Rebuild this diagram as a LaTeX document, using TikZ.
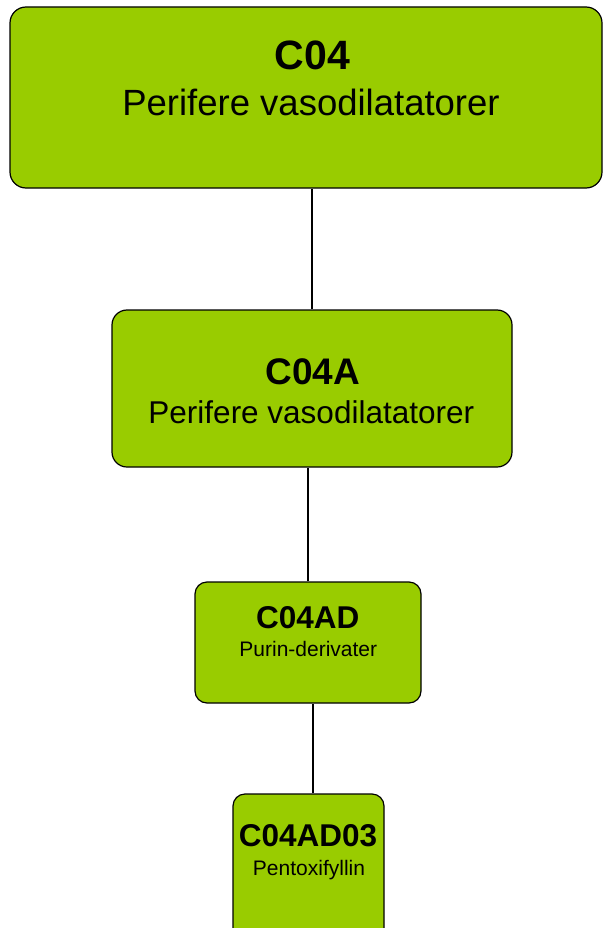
\documentclass[tikz,border=0pt]{standalone}
\usepackage{fontspec}
\setmainfont{Liberation Sans}
\usepackage{tikz}
\usetikzlibrary{calc,positioning}
\definecolor{atcgreen}{HTML}{99CC00}

\begin{document}
\begin{tikzpicture}[x=1pt,y=-1pt,
    box/.style={draw=black, fill=atcgreen, line width=1.2pt, rectangle, inner sep=0pt},
    title/.style={anchor=base, inner sep=0pt, font=\bfseries\fontsize{#1}{#1}\selectfont},
    subtitle/.style={anchor=base, inner sep=0pt, font=\fontsize{#1}{#1}\selectfont},
    link/.style={draw=black, line width=1.2pt}]
        \clip (0,0) rectangle (604,928);
        %Boxes
        \node[box, rounded corners=16pt, minimum width=592pt, minimum height=181pt] (c04) at (306,97.5) {};
        \node[box, rounded corners=15pt, minimum width=400pt, minimum height=157pt] (c04a) at (312,388.5) {};
        \node[box, rounded corners=12pt, minimum width=226pt, minimum height=121pt] (c04ad) at (308,642.5) {};
        \node[box, rounded corners=12pt, minimum width=151pt, minimum height=160pt] (c04ad03) at (308.5,874) {};
        %Text
        \node[title=41] (c04-t) at (312.5,69.5) {C04};
        \node[subtitle=36.5] (c04-s) at (311,115.5) {Perifere vasodilatatorer};
        \node[title=37] (c04a-t) at (313,384.5) {C04A};
        \node[subtitle=31.5] (c04a-s) at (311.3,423.5) {Perifere vasodilatatorer};
        \node[title=31.5] (c04ad-t) at (307.7,628.5) {C04AD};
        \node[subtitle=21] (c04ad-s) at (308.3,656) {Purin-derivater};
        \node[title=31.5] (c04ad03-t) at (308,846) {C04AD03};
        \node[subtitle=21] (c04ad03-s) at (309,875.5) {Pentoxifyllin};
        %Lines
        \draw[link] (c04a.north) -- (c04a.north |- c04.south);
        \draw[link] (c04ad.north) -- (c04ad.north |- c04a.south);
        \draw[link] ($(c04ad03.north)+(4.5,0)$) -- ($(c04ad03.north |- c04ad.south)+(4.5,0)$);
\end{tikzpicture}
\end{document}
